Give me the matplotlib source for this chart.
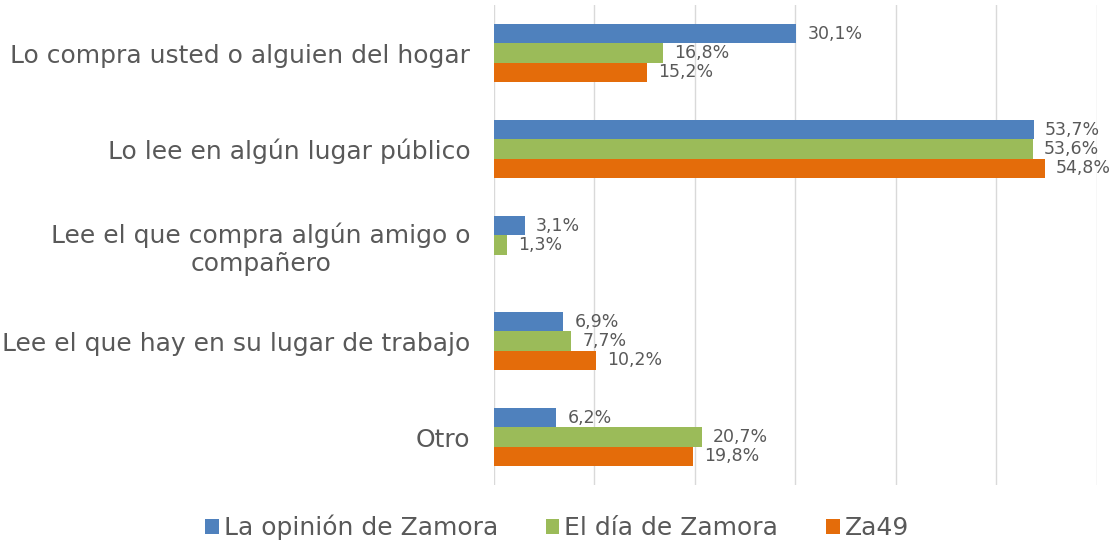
import numpy as np
import matplotlib
matplotlib.use("Agg")
import matplotlib.pyplot as plt

categories = [
    "Lo compra usted o alguien del hogar",
    "Lo lee en algún lugar público",
    "Lee el que compra algún amigo o\ncompañero",
    "Lee el que hay en su lugar de trabajo",
    "Otro",
]
series_names = ["La opinión de Zamora", "El día de Zamora", "Za49"]
opinion = [30.1, 53.7, 3.1, 6.9, 6.2]
dia = [16.8, 53.6, 1.3, 7.7, 20.7]
za49 = [15.2, 54.8, np.nan, 10.2, 19.8]
colors = ["#4F81BD", "#9BBB59", "#E46C0A"]
text_color = "#595959"

plt.rcParams["font.family"] = ["DejaVu Sans"]

fig = plt.figure(figsize=(11.14, 5.46), dpi=100)
ax = fig.add_axes([0.4434, 0.1117, 0.5413, 0.8791])

y = np.arange(len(categories))
h = 0.2
for i, (vals, name, c) in enumerate(zip([opinion, dia, za49], series_names, colors)):
    pos = y + (i - 1) * h
    ax.barh(pos, vals, height=h, color=c, label=name)
    for p, v in zip(pos, vals):
        if np.isnan(v):
            continue
        ax.text(v + 1.1, p, f"{v:.1f}%".replace(".", ","), va="center", ha="left",
                fontsize=12.5, color=text_color)

ax.set_xlim(0, 60)
ax.set_ylim(len(categories) - 0.5, -0.5)
ax.set_xticks(np.arange(0, 61, 10))
ax.set_xticklabels([])
ax.tick_params(axis="x", length=0)
ax.tick_params(axis="y", length=0, pad=17)
ax.set_yticks(y)
ax.set_yticklabels(categories, fontsize=18, color=text_color, multialignment="center")
ax.grid(axis="x", color="#D9D9D9", linewidth=1)
ax.set_axisbelow(True)
for s in ax.spines.values():
    s.set_visible(False)

fig.legend(loc="lower center", bbox_to_anchor=(0.5, -0.03), ncol=3, frameon=False,
           fontsize=18, labelcolor=text_color, handlelength=0.55, handleheight=0.55,
           handletextpad=0.2, columnspacing=1.9)

fig.savefig("out.png", dpi=100)
